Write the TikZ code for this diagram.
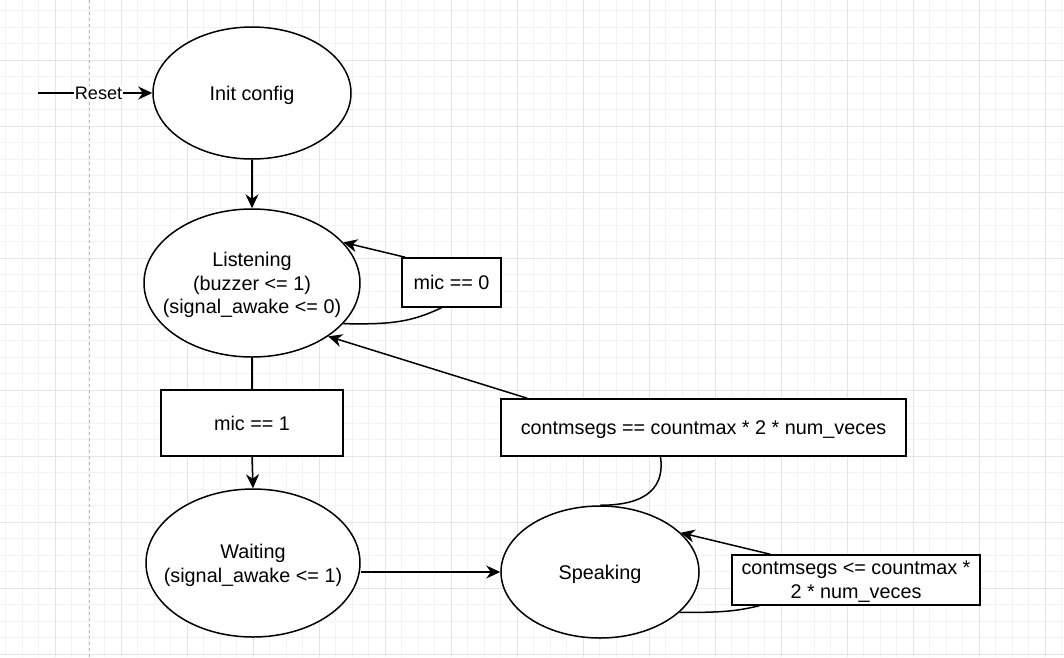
\documentclass[tikz,border=0pt]{standalone}
\usepackage{fontspec}
\setmainfont{Liberation Sans}
\usetikzlibrary{shapes.geometric,arrows.meta}
\definecolor{gminor}{RGB}{243,243,243}
\definecolor{gmajor}{RGB}{228,228,228}
\definecolor{pageline}{RGB}{185,185,185}
\newcommand\mainfs{\fontsize{19.8}{23.8}\selectfont}
\newcommand\labfs{\fontsize{18.1}{21.7}\selectfont}
\tikzset{
  statenode/.style={ellipse, draw, line width=1.5pt, fill=white, inner xsep=-60pt, inner ysep=-40pt, align=center, font=\mainfs, text depth=0pt},
  condbox/.style={rectangle, draw, line width=1.5pt, fill=white, inner sep=0pt, align=center, font=\mainfs, text depth=0pt},
  conn/.style={line width=1.5pt},
  arr/.style={conn, -{Stealth[length=14pt,width=13pt,inset=4.5pt]}},
  gridminor/.style={gminor, line width=1pt},
  gridmajor/.style={gmajor, line width=1pt},
}
\begin{document}
\begin{tikzpicture}[x=1pt,y=-1pt]
\useasboundingbox (0,0) rectangle (1064,657);
\fill[white] (0,0) rectangle (1064,657);
% grid
\foreach \i in {0,...,64} {\draw[gridminor] ({5.5+16.5*\i},0) -- ({5.5+16.5*\i},657);}
\foreach \i in {0,...,39} {\draw[gridminor] (0,{10.5+16.5*\i}) -- (1064,{10.5+16.5*\i});}
\foreach \i in {0,...,15} {\draw[gridmajor] ({55+66*\i},0) -- ({55+66*\i},657);}
\foreach \i in {0,...,9} {\draw[gridmajor] (0,{60+66*\i}) -- (1064,{60+66*\i});}
\draw[pageline, line width=1pt, dash pattern=on 3pt off 3pt] (89,0) -- (89,657);

% states
\node[statenode, minimum width=198, minimum height=132] (I) at (252,93) {Init config};
\node[statenode, minimum width=216, minimum height=148] (L) at (252,283) {Listening\\(buzzer <= 1)\\(signal\_awake <= 0)};
\node[statenode, minimum width=214, minimum height=148] (W) at (253,563) {Waiting\\(signal\_awake <= 1)};
\node[statenode, minimum width=198, minimum height=132] (S) at (600,572) {Speaking};

% condition boxes
\node[condbox, minimum width=99, minimum height=49] (m0) at (451.5,282.5) {mic == 0};
\node[condbox, minimum width=182, minimum height=66] (m1) at (252,423) {mic == 1};
\node[condbox, minimum width=405, minimum height=57] (c1) at (703.5,427.5) {contmsegs == countmax * 2 * num\_veces};
\node[condbox, minimum width=248, minimum height=50] (c2) at (856,580) {contmsegs <= countmax *\\2 * num\_veces};

% reset
\coordinate (rs) at (38,93);
\draw[arr] (rs) -- node[pos=0.53, fill=white, inner sep=0.5pt, font=\labfs] (rl) {Reset} (I.west);

% transitions
\draw[arr] (I.south) -- (L.north);
\draw[conn] (L.south) -- (m1.north);
\draw[arr] (m1.south) -- (W.north);
\draw[arr] (W.east |- S.west) -- (S.west);

% Listening self loop
\draw[conn] (L.-24.5) .. controls +(50,1) and +(-30,14) .. ([xshift=-10pt]m0.south);
\draw[arr] ([xshift=4pt]m0.north west) -- (L.24.3);

% Speaking -> Listening
\draw[conn] (S.north) .. controls +(50,0) and +(4,28) .. ([xshift=-43pt]c1.south);
\draw[arr] ([xshift=27pt]c1.north west) -- (L.-35);

% Speaking self loop
\draw[conn] (S.-27) .. controls +(40,0) and +(-25,6) .. ([xshift=28pt]c2.south west);
\draw[arr] ([xshift=39pt]c2.north west) -- (S.26.6);
\end{tikzpicture}
\end{document}
